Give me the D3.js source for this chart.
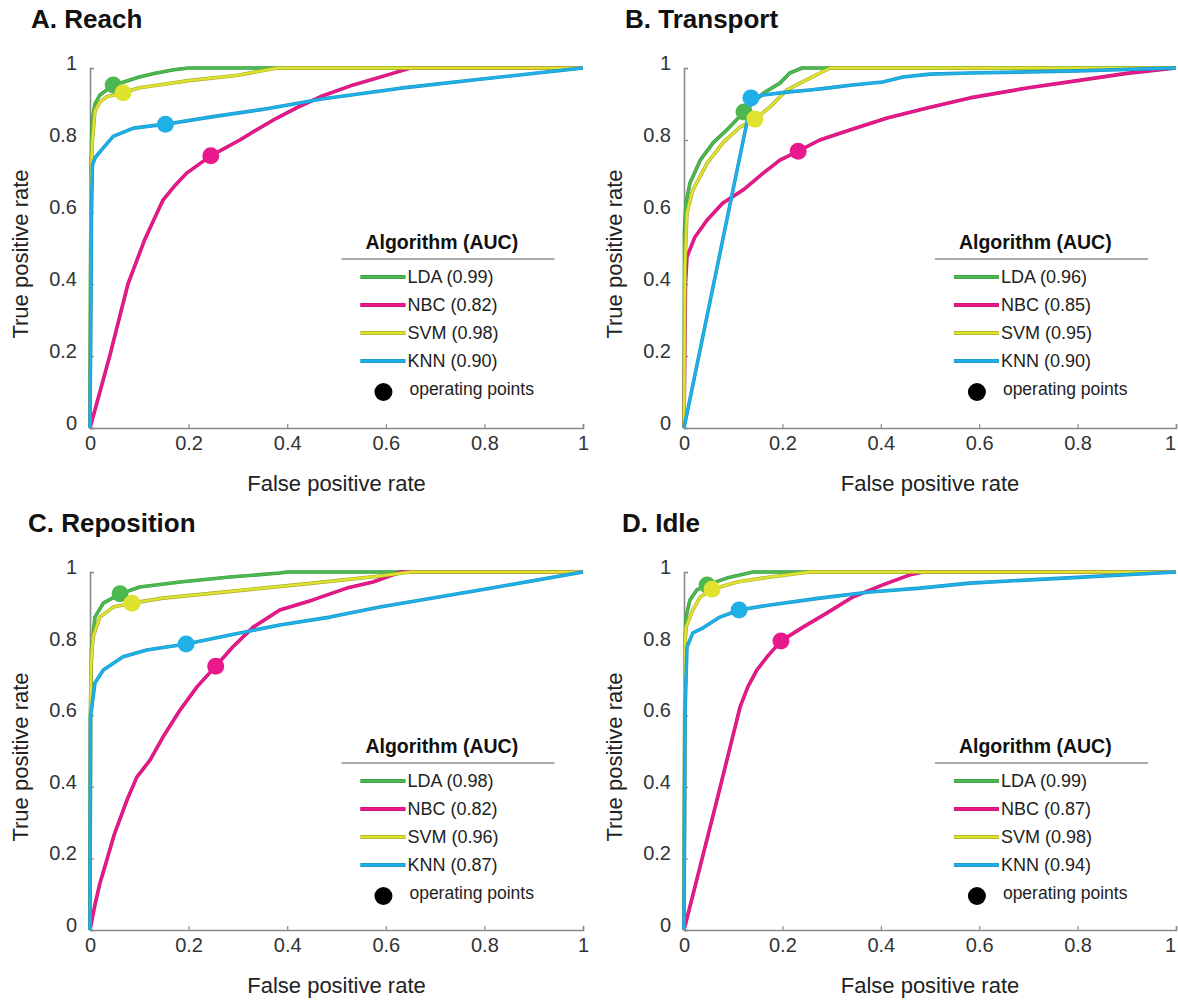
<!DOCTYPE html>
<html><head><meta charset="utf-8">
<script src="https://cdn.jsdelivr.net/npm/d3@7"></script>
<style>
body{margin:0;background:#fff;}
svg text{font-family:"Liberation Sans",Arial,Helvetica,sans-serif;}
</style></head>
<body><svg id="c" width="1178" height="1002"></svg>
<script>
// ---------- data ----------
const algorithms = ["LDA","NBC","SVM","KNN"];
const panelTitles = ["A. Reach","B. Transport","C. Reposition","D. Idle"];
const xTicks = [0,0.2,0.4,0.6,0.8,1];
const yTicks = [0,0.2,0.4,0.6,0.8,1];

const aucA = [0.99,0.82,0.98,0.90];
const aucB = [0.96,0.85,0.95,0.90];
const aucC = [0.98,0.82,0.96,0.87];
const aucD = [0.99,0.87,0.98,0.94];

const ldaA = [[0,0],[0.002,0.7],[0.004,0.85],[0.01,0.9],[0.02,0.925],[0.035,0.94],[0.047,0.953],[0.07,0.962],[0.1,0.975],[0.13,0.985],[0.17,0.995],[0.2,1],[1,1]];
const nbcA = [[0,0],[0.04,0.2],[0.077,0.4],[0.11,0.52],[0.13,0.58],[0.148,0.633],[0.17,0.67],[0.196,0.708],[0.245,0.756],[0.304,0.8],[0.34,0.83],[0.379,0.861],[0.42,0.89],[0.467,0.92],[0.534,0.953],[0.609,0.983],[0.65,1],[1,1]];
const svmA = [[0,0],[0.002,0.7],[0.005,0.8],[0.01,0.88],[0.02,0.905],[0.034,0.92],[0.067,0.931],[0.1,0.945],[0.15,0.955],[0.2,0.965],[0.3,0.98],[0.38,1],[1,1]];
const knnA = [[0,0],[0.003,0.6],[0.005,0.73],[0.01,0.75],[0.02,0.767],[0.047,0.81],[0.088,0.833],[0.153,0.844],[0.25,0.865],[0.35,0.885],[0.47,0.914],[0.63,0.944],[0.8,0.97],[1,1]];
const opA = [[0.047,0.953],[0.245,0.756],[0.067,0.931],[0.153,0.844]];

const ldaB = [[0,0],[0.001,0.55],[0.004,0.625],[0.012,0.68],[0.033,0.744],[0.059,0.792],[0.087,0.828],[0.122,0.878],[0.161,0.93],[0.195,0.958],[0.215,0.986],[0.24,1],[1,1]];
const nbcB = [[0,0],[0.003,0.4],[0.006,0.475],[0.022,0.53],[0.047,0.578],[0.079,0.625],[0.12,0.661],[0.161,0.708],[0.195,0.744],[0.232,0.769],[0.276,0.8],[0.337,0.828],[0.413,0.861],[0.494,0.889],[0.581,0.917],[0.7,0.945],[0.8,0.965],[0.9,0.985],[1,1]];
const svmB = [[0,0],[0.002,0.45],[0.006,0.597],[0.018,0.661],[0.047,0.736],[0.079,0.792],[0.114,0.836],[0.144,0.858],[0.175,0.892],[0.209,0.939],[0.256,0.972],[0.297,1],[1,1]];
const knnB = [[0,0],[0.128,0.85],[0.136,0.917],[0.161,0.925],[0.209,0.933],[0.256,0.939],[0.29,0.944],[0.343,0.953],[0.404,0.961],[0.445,0.975],[0.5,0.983],[0.581,0.986],[0.8,0.992],[1,1]];
const opB = [[0.122,0.878],[0.232,0.769],[0.144,0.858],[0.136,0.917]];

const ldaC = [[0,0],[0.001,0.6],[0.003,0.782],[0.01,0.874],[0.027,0.913],[0.061,0.939],[0.101,0.958],[0.183,0.972],[0.284,0.986],[0.385,0.997],[0.4,1],[1,1]];
const nbcC = [[0,0],[0.01,0.07],[0.02,0.13],[0.035,0.2],[0.05,0.27],[0.075,0.363],[0.095,0.427],[0.122,0.475],[0.148,0.539],[0.183,0.615],[0.217,0.679],[0.255,0.737],[0.29,0.791],[0.331,0.846],[0.385,0.894],[0.452,0.922],[0.521,0.955],[0.574,0.972],[0.63,1],[1,1]];
const svmC = [[0,0],[0.001,0.6],[0.002,0.735],[0.006,0.818],[0.02,0.874],[0.047,0.902],[0.085,0.913],[0.148,0.927],[0.25,0.941],[0.351,0.955],[0.452,0.969],[0.588,0.989],[0.65,1],[1,1]];
const knnC = [[0,0],[0.001,0.595],[0.01,0.69],[0.027,0.726],[0.067,0.763],[0.115,0.782],[0.195,0.799],[0.284,0.824],[0.385,0.852],[0.487,0.874],[0.588,0.902],[0.8,0.952],[1,1]];
const opC = [[0.061,0.939],[0.255,0.737],[0.085,0.913],[0.195,0.799]];

const ldaD = [[0,0],[0.002,0.8],[0.004,0.874],[0.012,0.922],[0.026,0.95],[0.047,0.964],[0.087,0.983],[0.14,1],[1,1]];
const nbcD = [[0,0],[0.067,0.363],[0.114,0.623],[0.13,0.68],[0.148,0.726],[0.17,0.765],[0.197,0.807],[0.242,0.846],[0.29,0.885],[0.343,0.93],[0.404,0.964],[0.459,0.992],[0.486,1],[1,1]];
const svmD = [[0,0],[0.002,0.8],[0.004,0.846],[0.018,0.894],[0.033,0.93],[0.057,0.952],[0.108,0.972],[0.175,0.986],[0.256,1],[1,1]];
const knnD = [[0,0],[0.002,0.6],[0.006,0.79],[0.018,0.83],[0.039,0.844],[0.073,0.874],[0.112,0.894],[0.175,0.908],[0.276,0.927],[0.378,0.944],[0.48,0.955],[0.581,0.969],[0.8,0.985],[1,1]];
const opD = [[0.047,0.964],[0.197,0.807],[0.057,0.952],[0.112,0.894]];

// ---------- styling ----------
const colors = {LDA:"#4cb84f", NBC:"#e8198b", SVM:"#dfe32e", KNN:"#1fb0e8"};
const edge = {LDA:"#3f9c43", NBC:"#c8157a", SVM:"#a9ab30", KNN:"#1a96c6"};

const panels = [
  {title:panelTitles[0], auc:aucA, curves:[ldaA,nbcA,svmA,knnA], ops:opA, left:90, top:68, w:493, h:360, tx:31, ty:28},
  {title:panelTitles[1], auc:aucB, curves:[ldaB,nbcB,svmB,knnB], ops:opB, left:684, top:68, w:492, h:360, tx:625, ty:28},
  {title:panelTitles[2], auc:aucC, curves:[ldaC,nbcC,svmC,knnC], ops:opC, left:90, top:572, w:493, h:358, tx:28, ty:532},
  {title:panelTitles[3], auc:aucD, curves:[ldaD,nbcD,svmD,knnD], ops:opD, left:684, top:572, w:492, h:358, tx:622, ty:532}
];

const svg = d3.select("#c");

panels.forEach(p => {
  const x = d3.scaleLinear().domain([0,1]).range([p.left, p.left + p.w]);
  const y = d3.scaleLinear().domain([0,1]).range([p.top + p.h, p.top]);
  const g = svg.append("g");

  // title
  g.append("text").attr("x", p.tx).attr("y", p.ty)
    .attr("font-size", 26).attr("font-weight", "bold").attr("fill", "#111").text(p.title);

  // x axis
  const xa = g.append("g").attr("transform", `translate(0,${p.top + p.h})`)
    .call(d3.axisBottom(x).tickValues(xTicks).tickSize(-4).tickPadding(8)
      .tickFormat(d => d3.format("~g")(d)));
  xa.select(".domain").attr("stroke", "#8a8a8a").attr("stroke-width", 1.6);
  xa.selectAll(".tick line").attr("stroke", "#8a8a8a").attr("stroke-width", 1.2);
  xa.selectAll(".tick text").attr("font-size", 20).attr("fill", "#333")
    .attr("font-family", '"Liberation Sans",Arial,sans-serif')
    .attr("dx", d => (d === 1 && p.left + p.w > 1170) ? -6 : 0);

  // y axis
  const ya = g.append("g").attr("transform", `translate(${p.left},0)`)
    .call(d3.axisLeft(y).tickValues(yTicks).tickSize(-4).tickPadding(13)
      .tickFormat(d => d3.format("~g")(d)));
  ya.select(".domain").attr("stroke", "#8a8a8a").attr("stroke-width", 1.6);
  ya.selectAll(".tick line").attr("stroke", "#8a8a8a").attr("stroke-width", 1.2);
  ya.selectAll(".tick text").attr("font-size", 20).attr("fill", "#333")
    .attr("dy", "0.07em")
    .attr("font-family", '"Liberation Sans",Arial,sans-serif');

  // axis titles
  g.append("text").attr("x", p.left + p.w/2).attr("y", p.top + p.h + 63)
    .attr("text-anchor", "middle").attr("font-size", 22).attr("fill", "#222")
    .text("False positive rate");
  g.append("text")
    .attr("transform", `translate(${p.left - 62},${p.top + p.h/2 + 6}) rotate(-90)`)
    .attr("text-anchor", "middle").attr("font-size", 22).attr("fill", "#222")
    .text("True positive rate");

  // curves
  const line = d3.line().x(d => x(d[0])).y(d => y(d[1]));
  p.curves.forEach((c, i) => {
    const a = algorithms[i];
    g.append("path").datum(c).attr("d", line).attr("fill", "none")
      .attr("stroke", edge[a]).attr("stroke-width", 3.6).attr("stroke-linejoin", "round");
    g.append("path").datum(c).attr("d", line).attr("fill", "none")
      .attr("stroke", colors[a]).attr("stroke-width", 2.4).attr("stroke-linejoin", "round");
  });
  // operating points
  p.ops.forEach((o, i) => {
    const a = algorithms[i];
    g.append("circle").attr("cx", x(o[0])).attr("cy", y(o[1])).attr("r", 8.5)
      .attr("fill", colors[a]);
  });

  // legend
  const lx = p.left + 0.51 * p.w;
  const ly = p.top;
  g.append("text").attr("x", lx + 24).attr("y", ly + 181)
    .attr("font-size", 19.5).attr("font-weight", "bold").attr("fill", "#111")
    .text("Algorithm (AUC)");
  g.append("line").attr("x1", lx).attr("x2", lx + 213)
    .attr("y1", ly + 191).attr("y2", ly + 191)
    .attr("stroke", "#aaaaaa").attr("stroke-width", 2);
  algorithms.forEach((a, i) => {
    const yy = ly + 209 + i * 28;
    g.append("line").attr("x1", lx + 19).attr("x2", lx + 64).attr("y1", yy).attr("y2", yy)
      .attr("stroke", edge[a]).attr("stroke-width", 4);
    g.append("line").attr("x1", lx + 19).attr("x2", lx + 64).attr("y1", yy).attr("y2", yy)
      .attr("stroke", colors[a]).attr("stroke-width", 2.6);
    g.append("text").attr("x", lx + 66).attr("y", yy + 6)
      .attr("font-size", 18).attr("fill", "#222")
      .text(`${a} (${p.auc[i].toFixed(2)})`);
  });
  const oy = ly + 209 + 4 * 28 + 3;
  g.append("circle").attr("cx", lx + 42).attr("cy", oy).attr("r", 9).attr("fill", "#000");
  g.append("text").attr("x", lx + 68).attr("y", oy + 3)
    .attr("font-size", 17.5).attr("fill", "#222").text("operating points");
});
</script></body></html>
